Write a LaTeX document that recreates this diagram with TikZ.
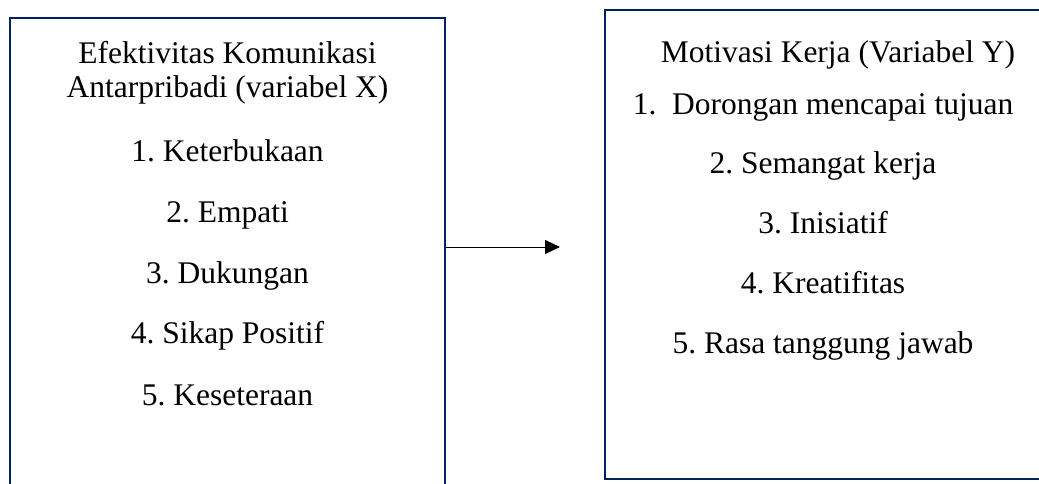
\documentclass[tikz,border=0pt]{standalone}
\usepackage{fontspec}
\setmainfont{Liberation Serif}
\usetikzlibrary{arrows.meta}
\definecolor{birutua}{RGB}{0,32,96}
\tikzset{kotak/.style={draw=birutua,line width=2.2pt},
  panah/.style={-{Triangle[length=15pt,width=14pt]},line width=1pt}}
\frenchspacing
\begin{document}
\begin{tikzpicture}[x=1pt,y=1pt,font=\fontsize{31.5}{35}\selectfont]
    \useasboundingbox (0,0) rectangle (1039,483);
    \clip (0,0) rectangle (1039,483);
    \node[kotak,minimum width=435,minimum height=482] (kiri) at (227.5,224) {};  % kotak X, keluar di bawah
    \node[kotak,minimum width=455,minimum height=469] (kanan) at (832.5,238.5) {}; % kotak Y, keluar di kanan
    % isi kotak kiri (y = garis dasar dari atas)
    \foreach \teks/\y [count=\i] in {Efektivitas Komunikasi/64, Antarpribadi (variabel X)/98,
      1. Keterbukaan/161, 2. Empati/222, 3. Dukungan/283, 4. Sikap Positif/343, 5. Keseteraan/405}
      \node[anchor=base] (x\i) at (227.5,483-\y) {\teks};
    % isi kotak kanan
    \node[anchor=base] (y0) at (838,483-63) {Motivasi Kerja (Variabel Y)};
    \foreach \teks/\y [count=\i] in {1.\ \ Dorongan mencapai tujuan/115, 2. Semangat kerja/174,
      3. Inisiatif/233, 4. Kreatifitas/293, 5. Rasa tanggung jawab/353}
      \node[anchor=base] (y\i) at (823,483-\y) {\teks};
    \coordinate (ujung) at (560,236);                 % ujung panah
    \draw[panah] (kiri.east |- ujung) -- (ujung);     % X ke Y
\end{tikzpicture}
\end{document}
